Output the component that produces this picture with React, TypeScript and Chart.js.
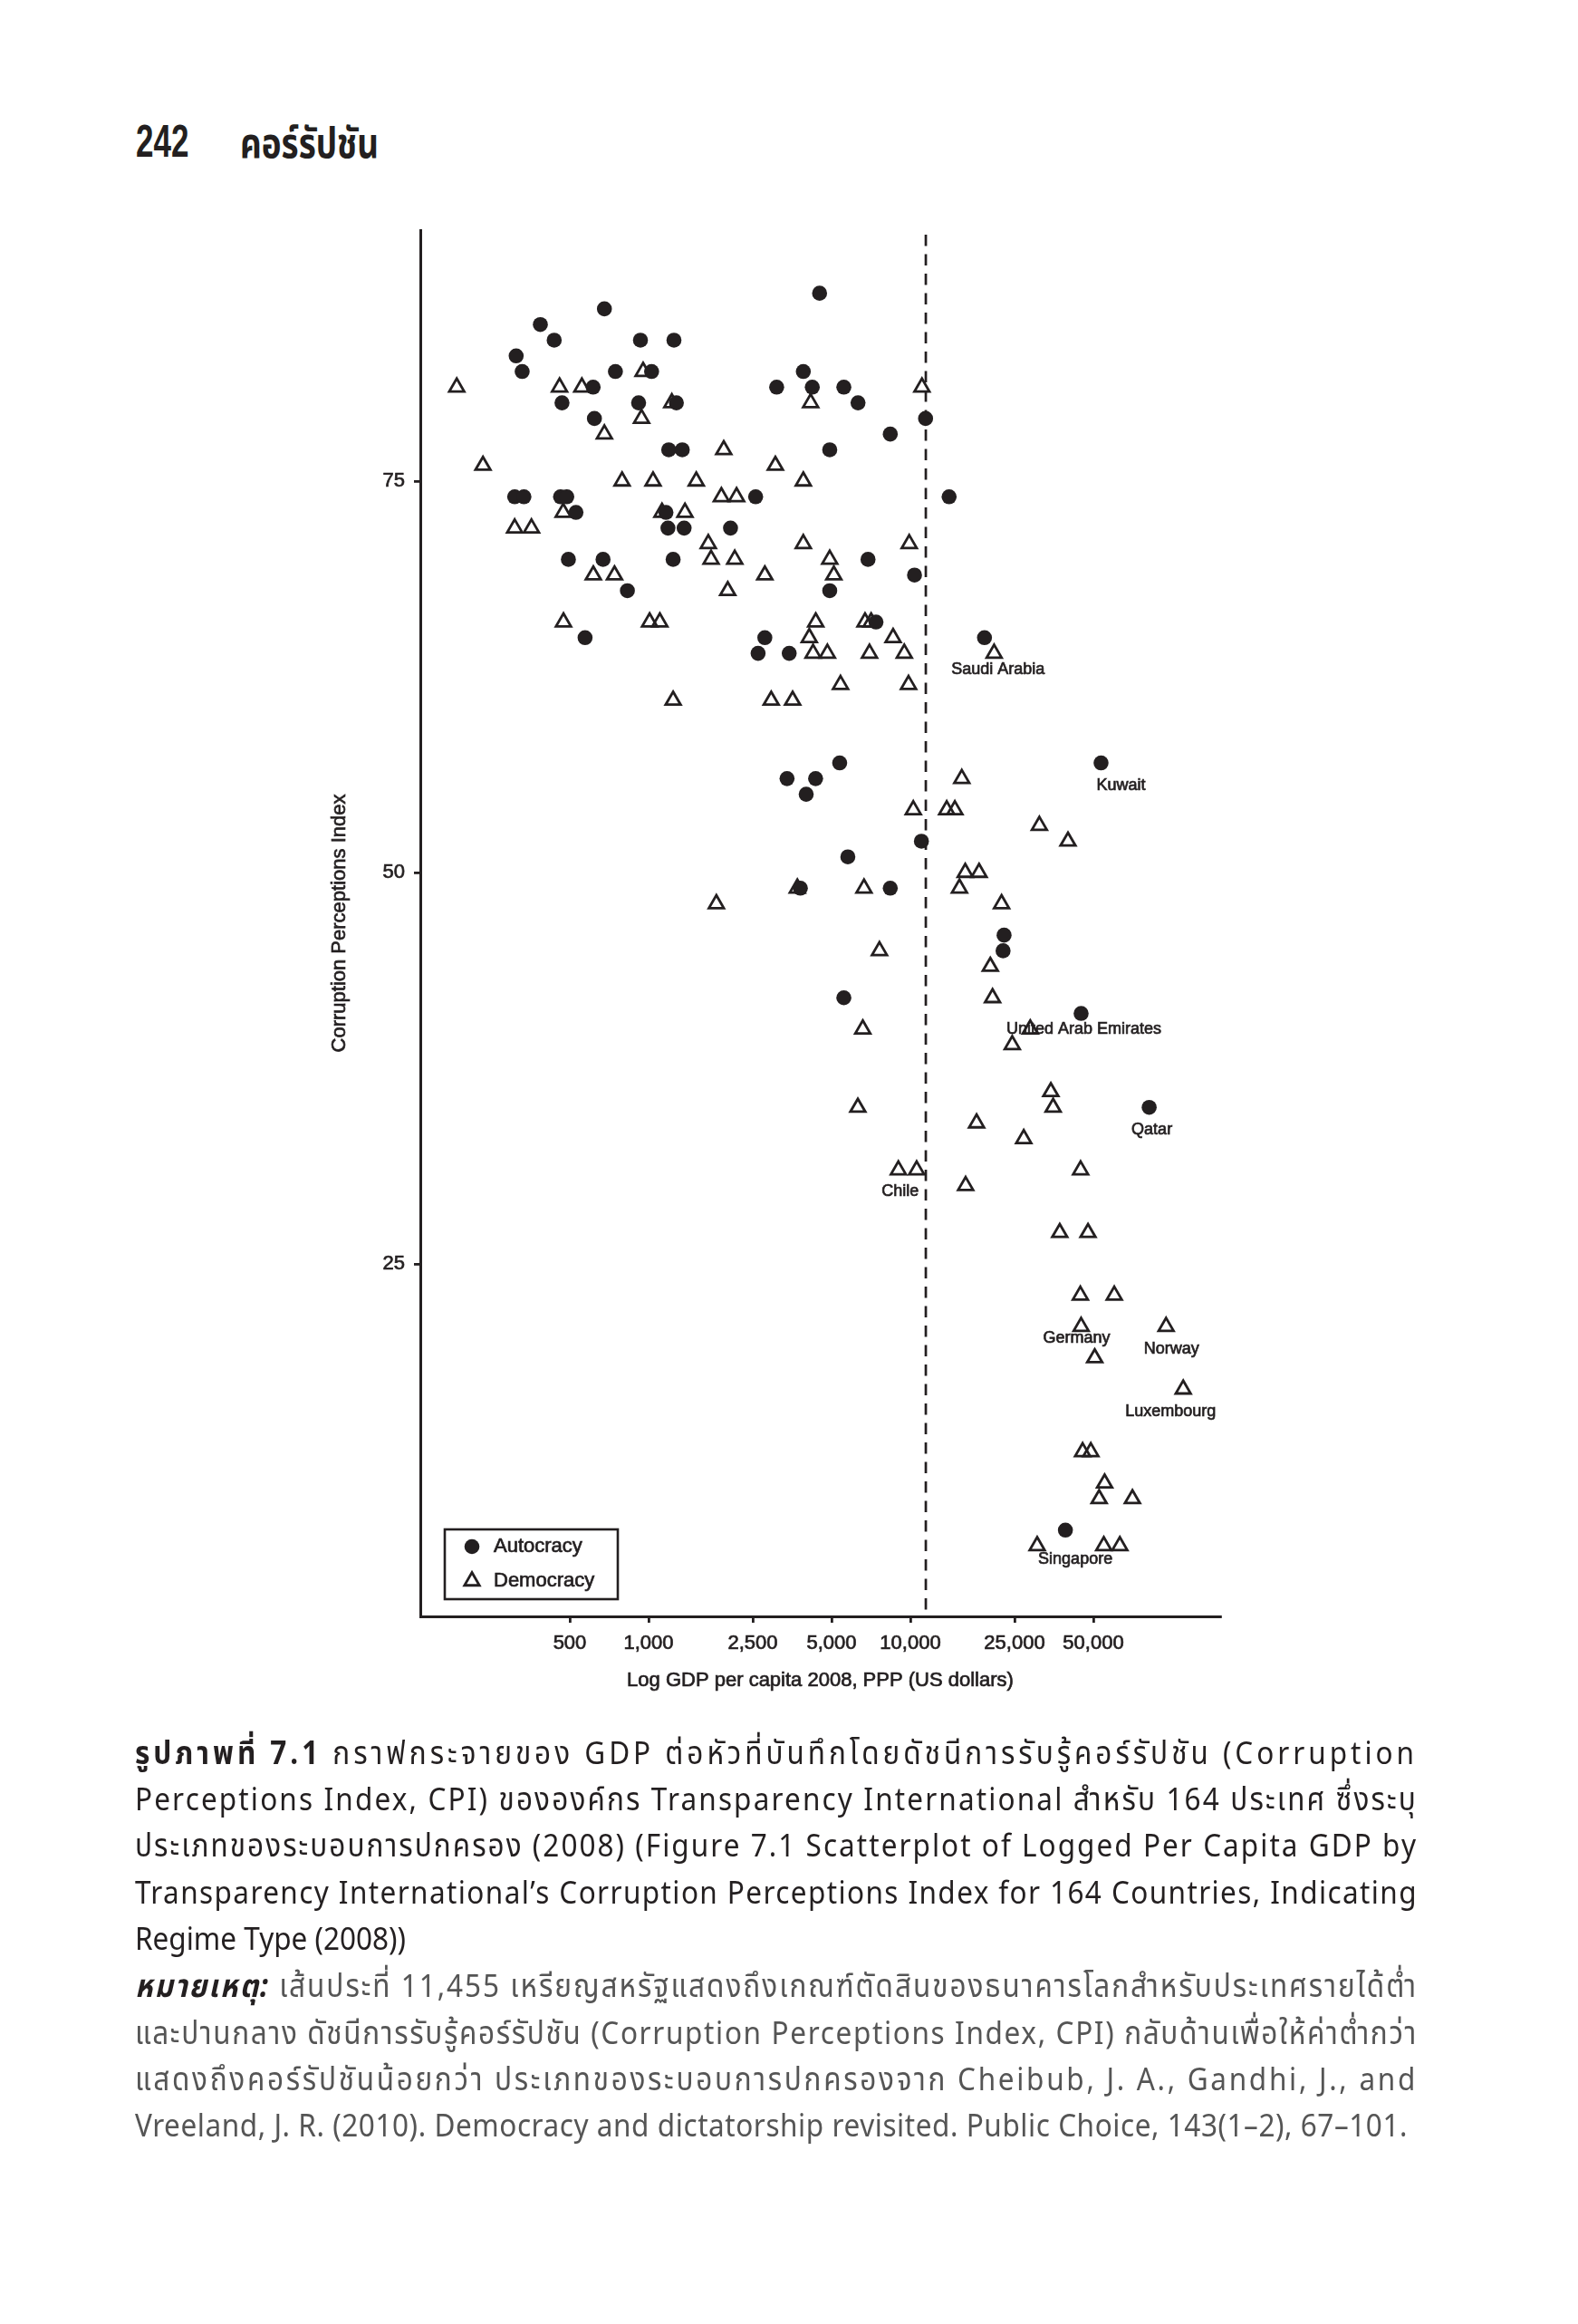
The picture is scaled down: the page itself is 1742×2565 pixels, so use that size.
import React, { useEffect, useLayoutEffect, useRef } from 'react';
import { Chart, registerables } from 'chart.js';

Chart.register(...registerables);

const INK = '#231f20';

// ---- Data (GDP per capita PPP 2008, inverted CPI) ----
const autocracyGdp = [
  4500, 678, 386, 436, 931, 1250, 312, 329, 747, 1027, 3900,
  614, 3085, 4220, 5570, 467, 916, 1277, 6310, 621, 11430, 8380,
  1194, 1345, 4920, 308, 334, 461, 487, 2564, 14060, 528, 1165,
  1186, 1367, 2056, 494, 670, 1241, 6890, 10370, 830, 4920, 7390,
  572, 2780, 19190, 2620, 3445, 5370, 53500, 3380, 4345, 4000,
  11020, 5770, 3800, 8380, 22800, 22600, 5570, 44900, 81700, 39100,
];
const autocracyCpi = [
  87, 86, 85, 84, 84, 84, 83, 82, 82, 82, 82,
  81, 81, 81, 81, 80, 80, 80, 80, 79, 79, 78,
  77, 77, 77, 74, 74, 74, 74, 74, 74, 73, 73,
  72, 72, 72, 70, 70, 70, 70, 69, 68, 68, 66,
  65, 65, 65, 64, 64, 57, 57, 56, 56, 55,
  52, 51, 49, 49, 46, 45, 42, 41, 35, 8,
];
const democracyGdp = [
  953, 185, 457, 556, 11070, 1227, 4160, 940, 678, 1937, 233, 3050,
  792, 1040, 1521, 3900, 1897, 2168, 472, 1125, 1377, 308, 357,
  1691, 3900, 9900, 1733, 2134, 4920, 615, 741, 2780, 5100, 2006,
  473, 1009, 1104, 4350, 6710, 7080, 4110, 8590, 4250, 4820, 6980, 9480, 20890,
  5410, 9840, 1241, 2940, 3550, 15720, 10260, 13770, 14790, 31100, 40000,
  16200, 18300, 3700, 6650, 15400, 1815, 22300, 7620, 20200, 20600,
  6580, 28700, 24500, 34400, 6300, 35100, 17900, 27100, 9000, 10570, 44700,
  16260, 37200, 47700, 44600, 60100, 44900, 94800, 50600, 110200,
  45500, 48900, 55200, 52600, 70500, 30500, 54800, 63100,
];
const democracyCpi = [
  82, 81, 81, 81, 81, 80, 80, 79, 78, 77, 76, 76,
  75, 75, 75, 75, 74, 74, 73, 73, 73, 72, 72,
  71, 71, 71, 70, 70, 70, 69, 69, 69, 69, 68,
  66, 66, 66, 66, 66, 66, 65, 65, 64, 64, 64, 64, 64,
  62, 62, 61, 61, 61, 56, 54, 54, 54, 53, 52,
  50, 50, 49, 49, 49, 48, 48, 45, 44, 42,
  40, 40, 39, 36, 35, 35, 34, 33, 31, 31, 31,
  30, 27, 27, 23, 23, 21, 21, 19, 17,
  13, 13, 11, 10, 10, 7, 7, 7,
];

const xTickValues = [500, 1000, 2500, 5000, 10000, 25000, 50000];
const yTickValues = [25, 50, 75];
const xMin = 134.3;
const xMax = 152560;
const yMin = 2.49;
const yMax = 91.03;
const thresholdGdp = 11455;

const seriesNames = ['Autocracy', 'Democracy'];
const xTitle = 'Log GDP per capita 2008, PPP (US dollars)';
const yTitle = 'Corruption Perceptions Index';

const labelNames = ['Saudi Arabia', 'Kuwait', 'United Arab Emirates', 'Qatar', 'Chile', 'Germany', 'Norway', 'Luxembourg', 'Singapore'];
const labelGdp = [19190, 53500, 44900, 81700, 9000, 44900, 94800, 110200, 39100];
const labelCpi = [65, 57, 41, 35, 31, 21, 21, 17, 8];

// pixel offsets of the label text centre from its point (style, not data)
const LABEL_OFFSETS = [[15, 35], [22, 25], [3, 17], [3, 25], [2, 24], [-5, 13], [6, 25], [-14, 25], [11, 32]];

const CANVAS_LEFT = 300;
const CANVAS_TOP = 200;
const CANVAS_W = 1100;
const CANVAS_H = 1720;

const FONT = '"Liberation Sans", Arial, Helvetica, sans-serif';
const TEXT_STROKE = 0.7;

function drawTriangle(ctx: CanvasRenderingContext2D, x: number, y: number, r: number) {
  ctx.beginPath();
  let rad = 0;
  ctx.moveTo(x + Math.sin(rad) * r, y - Math.cos(rad) * r);
  rad += (2 * Math.PI) / 3;
  ctx.lineTo(x + Math.sin(rad) * r, y - Math.cos(rad) * r);
  rad += (2 * Math.PI) / 3;
  ctx.lineTo(x + Math.sin(rad) * r, y - Math.cos(rad) * r);
  ctx.closePath();
}

function inkText(ctx: CanvasRenderingContext2D, t: string, x: number, y: number) {
  ctx.fillText(t, x, y);
  ctx.lineWidth = TEXT_STROKE;
  ctx.strokeText(t, x, y);
}

const overlayPlugin = {
  id: 'overlay',
  beforeDatasetsDraw(chart: any) {
    const { ctx, chartArea, scales } = chart;
    const x = scales.x.getPixelForValue(thresholdGdp);
    ctx.save();
    ctx.strokeStyle = INK;
    ctx.lineWidth = 2.7;
    ctx.setLineDash([12.5, 9]);
    ctx.beginPath();
    ctx.moveTo(x, chartArea.top + 5);
    ctx.lineTo(x, chartArea.bottom);
    ctx.stroke();
    ctx.restore();
  },
  afterDatasetsDraw(chart: any) {
    const { ctx, chartArea, scales } = chart;
    ctx.save();
    ctx.fillStyle = INK;
    ctx.strokeStyle = INK;

    // country labels
    ctx.font = `18px ${FONT}`;
    ctx.textAlign = 'center';
    ctx.textBaseline = 'middle';
    labelNames.forEach((name, i) => {
      const px = scales.x.getPixelForValue(labelGdp[i]) + LABEL_OFFSETS[i][0];
      const py = scales.y.getPixelForValue(labelCpi[i]) + LABEL_OFFSETS[i][1];
      inkText(ctx, name, px, py);
    });

    // axis titles
    ctx.font = `22px ${FONT}`;
    inkText(ctx, xTitle, (chartArea.left + chartArea.right) / 2, chartArea.bottom + 71);
    ctx.save();
    ctx.translate(chartArea.left - 89, (chartArea.top + chartArea.bottom) / 2);
    ctx.rotate(-Math.PI / 2);
    inkText(ctx, yTitle, 0, 0);
    ctx.restore();

    // legend box
    const bl = chartArea.left + 27;
    const bt = chartArea.bottom - 96;
    ctx.lineWidth = 2.6;
    ctx.fillStyle = '#ffffff';
    ctx.fillRect(bl, bt, 191, 77);
    ctx.strokeRect(bl, bt, 191, 77);
    ctx.fillStyle = INK;
    ctx.beginPath();
    ctx.arc(bl + 30, bt + 19, 8.3, 0, Math.PI * 2);
    ctx.fill();
    ctx.lineWidth = 2.8;
    drawTriangle(ctx, bl + 30, bt + 57, 9.5);
    ctx.stroke();
    ctx.font = `22px ${FONT}`;
    ctx.textAlign = 'left';
    inkText(ctx, seriesNames[0], bl + 54, bt + 19);
    inkText(ctx, seriesNames[1], bl + 54, bt + 57);
    ctx.restore();
  },
};

function ScatterChart() {
  const ref = useRef<HTMLCanvasElement | null>(null);
  useEffect(() => {
    if (!ref.current) return;
    const tickFont = { family: FONT, size: 22 };
    const chart = new Chart(ref.current, {
      type: 'scatter',
      data: {
        datasets: [
          {
            label: seriesNames[0],
            data: autocracyGdp.map((g, i) => ({ x: g, y: autocracyCpi[i] })),
            pointStyle: 'circle',
            pointRadius: 8.3,
            backgroundColor: INK,
            borderWidth: 0,
          },
          {
            label: seriesNames[1],
            data: democracyGdp.map((g, i) => ({ x: g, y: democracyCpi[i] })),
            pointStyle: 'triangle',
            pointRadius: 9.5,
            backgroundColor: 'rgba(0,0,0,0)',
            borderColor: INK,
            borderWidth: 2.8,
          },
        ],
      },
      options: {
        animation: false,
        responsive: false,
        maintainAspectRatio: false,
        devicePixelRatio: 1,
        events: [],
        layout: { padding: { top: 54, right: 53, left: 0, bottom: 0 } },
        plugins: { legend: { display: false }, tooltip: { enabled: false } },
        scales: {
          x: {
            type: 'logarithmic',
            min: xMin,
            max: xMax,
            afterBuildTicks: (s: any) => {
              s.ticks = xTickValues.map((v) => ({ value: v }));
            },
            afterFit: (s: any) => {
              s.height = 136;
            },
            ticks: {
              autoSkip: false,
              maxRotation: 0,
              padding: 10,
              color: INK,
              textStrokeColor: INK,
              textStrokeWidth: TEXT_STROKE,
              font: tickFont,
              callback: (v: any) => Number(v).toLocaleString('en-US'),
            },
            grid: { display: true, drawOnChartArea: false, drawTicks: true, tickLength: 7, lineWidth: 2.8, color: INK },
            border: { display: true, width: 3, color: INK },
          },
          y: {
            type: 'linear',
            min: yMin,
            max: yMax,
            afterBuildTicks: (s: any) => {
              s.ticks = yTickValues.map((v) => ({ value: v }));
            },
            afterFit: (s: any) => {
              s.width = 164;
            },
            ticks: {
              autoSkip: false,
              padding: 10,
              color: INK,
              textStrokeColor: INK,
              textStrokeWidth: TEXT_STROKE,
              font: tickFont,
              callback: (v: any) => String(v),
            },
            grid: { display: true, drawOnChartArea: false, drawTicks: true, tickLength: 7, lineWidth: 2.8, color: INK },
            border: { display: true, width: 3, color: INK },
          },
        },
      },
      plugins: [overlayPlugin],
    } as any);
    return () => chart.destroy();
  }, []);
  return (
    <canvas
      ref={ref}
      width={CANVAS_W}
      height={CANVAS_H}
      style={{ position: 'absolute', left: CANVAS_LEFT, top: CANVAS_TOP, width: CANVAS_W, height: CANVAS_H }}
    />
  );
}

type Seg = { t: string; b?: boolean; i?: boolean };

const CAPTION_FONT = '"Noto Sans", "Noto Sans Thai", sans-serif';
const NOTE_GREY = '#555555';
const CAPTION_SIZE = 35;
const CAPTION_SCALE = 0.9;

const captionLines: { segs: Seg[]; width: number; baseline: number; color: string; justify: boolean }[] = [
  {
    segs: [{ t: 'รูปภาพที่ 7.1', b: true }, { t: ' กราฟกระจายของ GDP ต่อหัวที่บันทึกโดยดัชนีการรับรู้คอร์รัปชัน (Corruption' }],
    width: 1416, baseline: 1948, color: INK, justify: true,
  },
  {
    segs: [{ t: 'Perceptions Index, CPI) ขององค์กร Transparency International สำหรับ 164 ประเทศ ซึ่งระบุ' }],
    width: 1416, baseline: 1999, color: INK, justify: true,
  },
  {
    segs: [{ t: 'ประเภทของระบอบการปกครอง (2008) (Figure 7.1 Scatterplot of Logged Per Capita GDP by' }],
    width: 1416, baseline: 2050, color: INK, justify: true,
  },
  {
    segs: [{ t: 'Transparency International’s Corruption Perceptions Index for 164 Countries, Indicating' }],
    width: 1416, baseline: 2102, color: INK, justify: true,
  },
  {
    segs: [{ t: 'Regime Type (2008))' }],
    width: 1416, baseline: 2153, color: INK, justify: false,
  },
  {
    segs: [{ t: 'หมายเหตุ:', b: true, i: true }, { t: ' เส้นประที่ 11,455 เหรียญสหรัฐแสดงถึงเกณฑ์ตัดสินของธนาคารโลกสำหรับประเทศรายได้ต่ำ' }],
    width: 1416, baseline: 2205, color: NOTE_GREY, justify: true,
  },
  {
    segs: [{ t: 'และปานกลาง ดัชนีการรับรู้คอร์รัปชัน (Corruption Perceptions Index, CPI) กลับด้านเพื่อให้ค่าต่ำกว่า' }],
    width: 1416, baseline: 2257, color: NOTE_GREY, justify: true,
  },
  {
    segs: [{ t: 'แสดงถึงคอร์รัปชันน้อยกว่า ประเภทของระบอบการปกครองจาก Cheibub, J. A., Gandhi, J., and' }],
    width: 1416, baseline: 2308, color: NOTE_GREY, justify: true,
  },
  {
    segs: [{ t: 'Vreeland, J. R. (2010). Democracy and dictatorship revisited. Public Choice, 143(1–2), 67–101.' }],
    width: 1405, baseline: 2359, color: NOTE_GREY, justify: true,
  },
];

function countUnits(s: string) {
  // characters that carry letter-spacing (skip Thai combining marks)
  let n = 0;
  for (const ch of s) {
    const c = ch.charCodeAt(0);
    const combining = c === 0x0e31 || (c >= 0x0e34 && c <= 0x0e3a) || (c >= 0x0e47 && c <= 0x0e4e);
    if (!combining) n += 1;
  }
  return Math.max(n, 1);
}

export default function App() {
  const lineRefs = useRef<(HTMLSpanElement | null)[]>([]);
  useLayoutEffect(() => {
    captionLines.forEach((line, i) => {
      const el = lineRefs.current[i];
      if (!el || !line.justify) return;
      const n = countUnits(el.textContent || '');
      let ls = 0;
      el.style.letterSpacing = '0px';
      for (let k = 0; k < 6; k++) {
        const w = el.getBoundingClientRect().width;
        ls += (line.width - w) / n / CAPTION_SCALE;
        el.style.letterSpacing = `${ls}px`;
      }
    });
  }, []);
  return (
    <div style={{ position: 'absolute', left: 0, top: 0, width: 1742, height: 2565, background: '#ffffff', overflow: 'hidden' }}>
      <div
        style={{
          position: 'absolute', left: 150, top: 131, fontFamily: FONT, fontWeight: 700, fontSize: 50, lineHeight: '50px',
          color: INK, transform: 'scaleX(0.7)', transformOrigin: 'left top', whiteSpace: 'nowrap',
        }}
      >
        242
      </div>
      <div
        style={{
          position: 'absolute', left: 265, top: 131, fontFamily: CAPTION_FONT, fontWeight: 700, fontSize: 46, lineHeight: '50px',
          color: INK, transform: 'scaleX(0.8)', transformOrigin: 'left top', whiteSpace: 'nowrap',
        }}
      >
        คอร์รัปชัน
      </div>
      <ScatterChart />
      {captionLines.map((line, li) => (
        <div
          key={li}
          style={{
            position: 'absolute', left: 149, top: line.baseline - 36, width: 1800, height: 44,
            fontFamily: CAPTION_FONT, fontSize: CAPTION_SIZE, lineHeight: '44px', color: line.color, whiteSpace: 'pre',
            transform: `scaleX(${CAPTION_SCALE})`, transformOrigin: 'left top',
          }}
        >
          <span ref={(el) => { lineRefs.current[li] = el; }} style={{ display: 'inline-block', whiteSpace: 'pre' }}>
            {line.segs.map((s, si) => (
              <span key={si} style={{ fontWeight: s.b ? 700 : 400, fontStyle: s.i ? 'italic' : 'normal', color: s.b ? INK : undefined }}>
                {s.t}
              </span>
            ))}
          </span>
        </div>
      ))}
    </div>
  );
}
